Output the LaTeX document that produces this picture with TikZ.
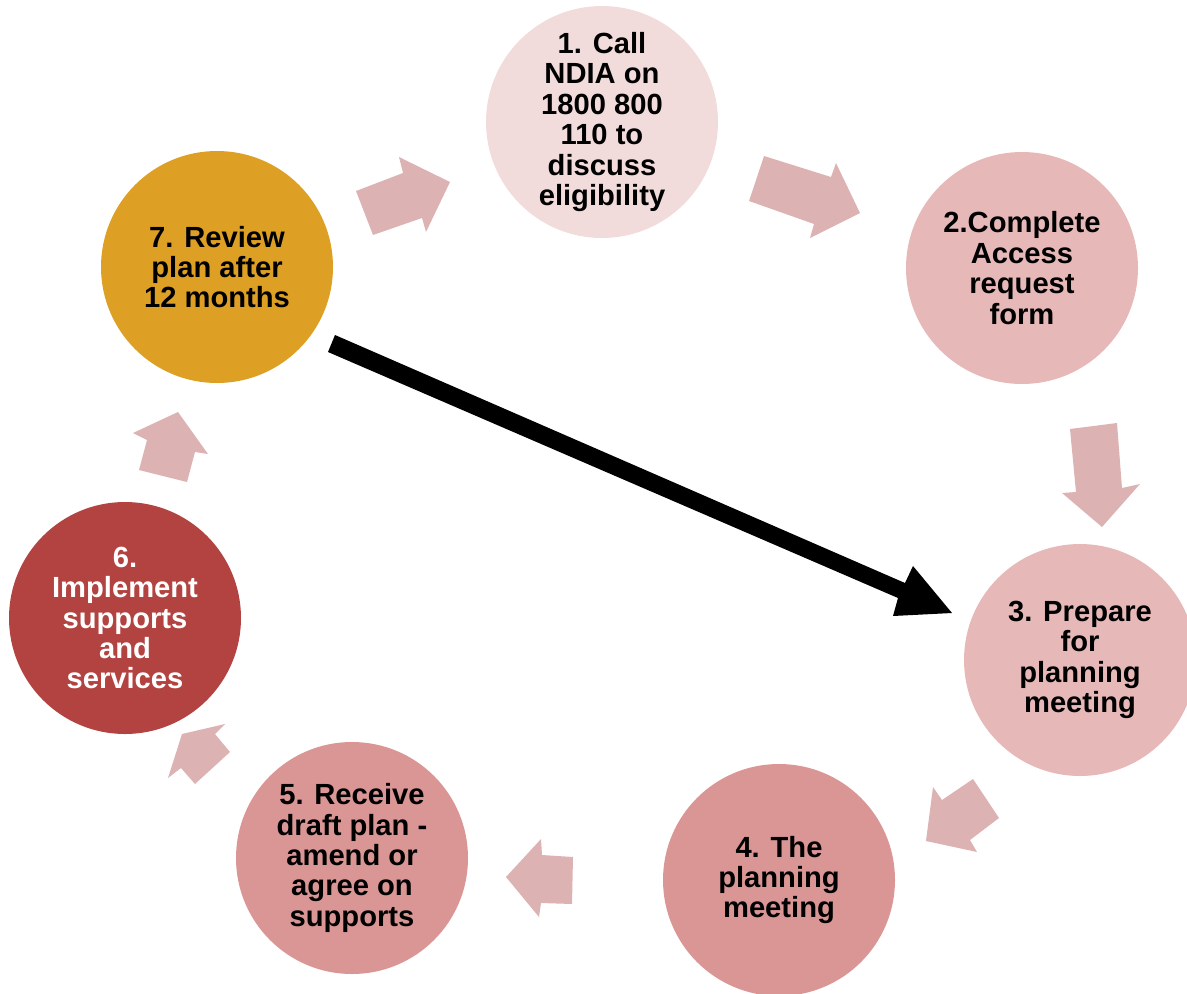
\documentclass[tikz,border=0pt]{standalone}
\usepackage{fontspec}
\setmainfont{Liberation Sans}
\begin{document}
\definecolor{cOne}{HTML}{F2DCDB}
\definecolor{cTwo}{HTML}{E6B9B8}
\definecolor{cFour}{HTML}{D99694}
\definecolor{cSix}{HTML}{B24341}
\definecolor{cSeven}{HTML}{DDA024}
\definecolor{cArrow}{HTML}{DDB2B3}
\begin{tikzpicture}[x=0.02cm,y=-0.02cm,
  stage/.style={circle,minimum size=232*0.02cm,inner sep=0pt,align=center,
    font=\fontsize{16.6}{17.3}\selectfont\bfseries},
  blockarrow/.style={fill=cArrow,draw=none},
  bigarrow/.style={fill=black,draw=none}]
\useasboundingbox (0,0) rectangle (1187,994);
\begin{scope}
\clip (0,0) rectangle (1187,994);
\node[stage,fill=cOne] (s1) at (602,122) {1. Call\\NDIA on\\1800 800\\110 to\\discuss\\eligibility};
\node[stage,fill=cTwo] (s2) at (1022,268) {2.Complete\\Access\\request\\form};
\node[stage,fill=cTwo] (s3) at (1080,660) {3. Prepare\\for\\planning\\meeting};
\node[stage,fill=cFour] (s4) at (779,880) {4. The\\planning\\meeting};
\node[stage,fill=cFour] (s5) at (352,858) {5. Receive\\draft plan -\\amend or\\agree on\\supports};
\node[stage,fill=cSix,text=white] (s6) at (125,618) {6.\\Implement\\supports\\and\\services};
\node[stage,fill=cSeven] (s7) at (217,267) {7. Review\\plan after\\12 months};
\end{scope}
% block arrows between stages
\fill[blockarrow] (356,191) -- (403,173) -- (399,157) -- (450,182) -- (426,232) -- (422,218) -- (373,235) -- cycle;
\fill[blockarrow] (764,156) -- (831,177) -- (836,163) -- (860,213) -- (810,238) -- (814,224) -- (749,201) -- cycle;
\fill[blockarrow] (1070,429) -- (1117,423) -- (1122,488) -- (1140,484) -- (1102,527) -- (1062,493) -- (1076,492) -- cycle;
\fill[blockarrow] (973,779) -- (999,818) -- (970,840) -- (977,852) -- (926,841) -- (933,787) -- (942,800) -- cycle;
\fill[blockarrow] (573,857) -- (572,904) -- (541,903) -- (539,917) -- (506,877) -- (541,839) -- (542,855) -- cycle;
\fill[blockarrow] (182,734) -- (225,724) -- (215,734) -- (230,752) -- (195,784) -- (181,768) -- (168,778) -- cycle;
\fill[blockarrow] (178,412) -- (208,454) -- (195,452) -- (187,482) -- (139,470) -- (147,440) -- (133,433) -- cycle;
% big black arrow
\fill[bigarrow] (335,335) -- (905,583) -- (913,566) -- (952,613) -- (893,616) -- (898,598) -- (328,352) -- cycle;
\end{tikzpicture}
\end{document}
